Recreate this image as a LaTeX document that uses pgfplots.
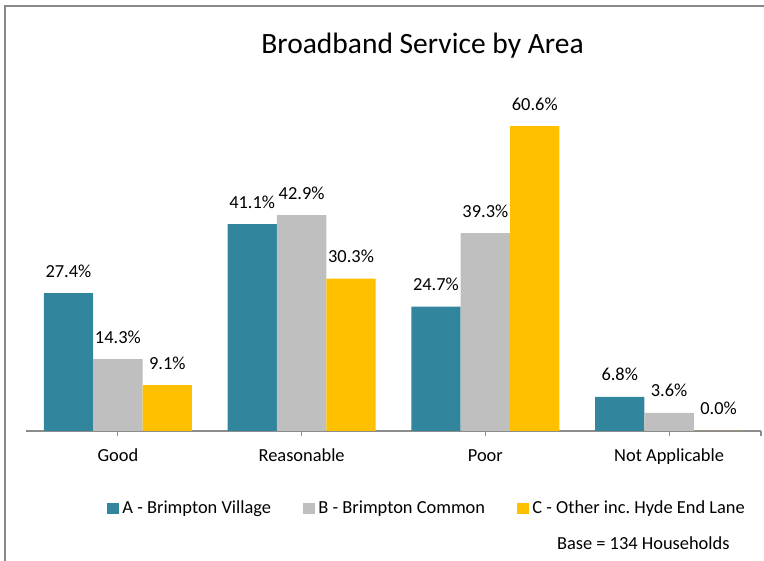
\documentclass[border=0pt]{standalone}
\usepackage{fontspec}
\setmainfont{Carlito}
\usepackage{pgfplots}
\pgfplotsset{compat=1.18}
\definecolor{teal1}{HTML}{31859C}
\definecolor{gray1}{HTML}{BFBFBF}
\definecolor{gold1}{HTML}{FFC000}
\definecolor{axisgray}{HTML}{8C8C8C}
\definecolor{framegray}{HTML}{898989}
\newcommand{\lblfont}{\fontsize{18.4bp}{22bp}\selectfont}
\begin{document}
\begin{tikzpicture}
\useasboundingbox (0,0) rectangle (764bp,561bp);
\draw[framegray, line width=2bp] (5bp,0bp) -- (5bp,555bp) -- (764bp,555bp);
\node[anchor=base, font=\fontsize{29.5bp}{34bp}\selectfont] at (422.5bp,507.7bp) {Broadband Service by Area};
\node[anchor=base east, font=\lblfont] at (733bp,11.5bp) {Base = 134 Households};
\begin{axis}[
  at={(26bp,130bp)}, anchor=south west,
  scale only axis, width=735bp, height=352.3bp,
  ymin=0, ymax=70, xmin=-0.5, xmax=3.5,
  ybar=0pt, bar width=49.4bp,
  axis x line*=bottom, axis y line=none,
  x axis line style={-, draw=axisgray, line width=1.5bp},
  xtick={0,1,2,3},
  xticklabels={Good,Reasonable,Poor,Not Applicable},
  extra x ticks={3.5}, extra x tick labels={},
  extra x tick style={major tick length=5bp, tick style={axisgray, line width=1.2bp}},
  tick align=outside, major tick length=5bp,
  tick style={axisgray, line width=1.2bp},
  xticklabel style={anchor=base, yshift=-25.5bp, font=\lblfont},
  /pgf/number format/assume math mode=true,
  nodes near coords={\pgfmathprintnumber[fixed,fixed zerofill,precision=1]{\pgfplotspointmeta}\%},
  every node near coord/.append style={anchor=base, yshift=16bp, inner sep=0pt, font=\lblfont, text=black},
  clip=false,
  legend columns=3,
  legend style={draw=none, fill=none, inner sep=0pt, font=\lblfont,
    at={(0.1102,-0.219)}, anchor=west,
    nodes={inner sep=0pt},
    /tikz/every odd column/.append style={column sep=3.8bp},
    /tikz/every even column/.append style={column sep=32bp}},
  sq/.style={legend image code/.code={\fill[##1] (0bp,-5.5bp) rectangle (11.5bp,5.5bp);}},
]
\addplot[fill=teal1, draw=none, sq] coordinates {(0,27.4) (1,41.1) (2,24.7) (3,6.8)};
\addplot[fill=gray1, draw=none, sq] coordinates {(0,14.3) (1,42.9) (2,39.3) (3,3.6)};
\addplot[fill=gold1, draw=none, sq] coordinates {(0,9.1) (1,30.3) (2,60.6) (3,0.0)};
\legend{A - Brimpton Village, B - Brimpton Common, C - Other inc.\ Hyde End Lane}
\end{axis}
\end{tikzpicture}
\end{document}
